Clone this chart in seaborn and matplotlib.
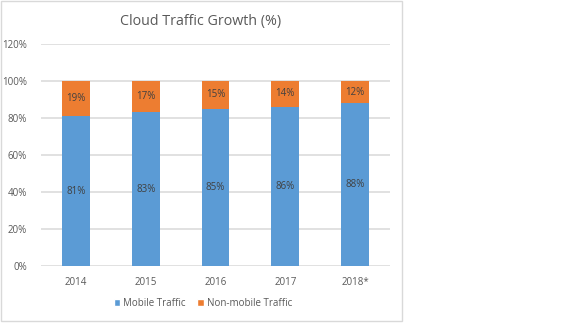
import matplotlib
matplotlib.use("Agg")
import matplotlib.pyplot as plt
import seaborn as sns
import pandas as pd
from matplotlib.patches import Rectangle, Patch

years = ["2014", "2015", "2016", "2017", "2018*"]
mobile = [81, 83, 85, 86, 88]
non_mobile = [19, 17, 15, 14, 12]
yticks = [0, 20, 40, 60, 80, 100, 120]

BLUE = "#5B9BD5"
ORANGE = "#ED7D31"

sns.set_theme(style="white")
plt.rcParams['font.family'] = ['Open Sans', 'DejaVu Sans']

df = pd.DataFrame({"year": years, "mobile": mobile, "non_mobile": non_mobile})
df["total"] = df["mobile"] + df["non_mobile"]

fig = plt.figure(figsize=(5.65, 3.32), dpi=100)
ax = fig.add_axes([41/565, 1-266/332, (390-41)/565, (266-44)/332])

sns.barplot(data=df, x="year", y="total", color=ORANGE, width=0.40, ax=ax,
            saturation=1, linewidth=0, edgecolor="none")
sns.barplot(data=df, x="year", y="mobile", color=BLUE, width=0.40, ax=ax,
            saturation=1, linewidth=0, edgecolor="none")

ax.set_ylim(0, 120)
ax.set_xlim(-0.5, 4.5)
ax.set_yticks(yticks)
ax.set_yticklabels([f"{v}%" for v in yticks])
ax.set_xlabel("")
ax.set_ylabel("")
ax.grid(axis="y", color="#D9D9D9", linewidth=1.1)
ax.set_axisbelow(True)
for s in ax.spines.values():
    s.set_visible(False)
ax.tick_params(axis="both", length=0, labelsize=7, labelcolor="#595959")
ax.tick_params(axis="y", pad=10)
ax.tick_params(axis="x", pad=8)

for i in range(len(years)):
    ax.text(i, mobile[i] / 2, f"{mobile[i]}%", ha="center", va="center",
            fontsize=7, color="#404040")
    ax.text(i, mobile[i] + non_mobile[i] / 2, f"{non_mobile[i]}%", ha="center",
            va="center", fontsize=7, color="#404040")

fig.text(201/565, 1-21/332, "Cloud Traffic Growth (%)", ha="center", va="center",
         fontsize=10.3, color="#595959")

handles = [Patch(facecolor=BLUE, label="Mobile Traffic"),
           Patch(facecolor=ORANGE, label="Non-mobile Traffic")]
fig.legend(handles=handles, loc="center", bbox_to_anchor=(203/565, 1-303/332),
           ncol=2, frameon=False, fontsize=7, handlelength=0.7, handleheight=0.7,
           handletextpad=0.3, columnspacing=1.2, labelcolor="#595959")

fig.patches.append(Rectangle((1/565, 1-321/332), 401/565, 320/332,
                             transform=fig.transFigure, fill=False,
                             edgecolor="#D9D9D9", linewidth=1))

fig.savefig("out.png", dpi=100)
